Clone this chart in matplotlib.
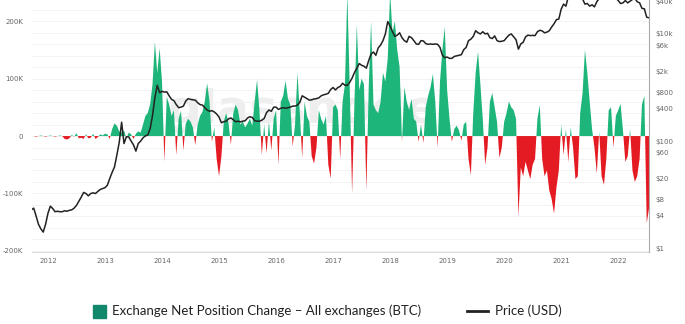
import numpy as np
import matplotlib.pyplot as plt
from matplotlib.patches import Rectangle
from matplotlib.lines import Line2D

# exchange net position change, thousand BTC, two readings per month
net_2011 = [0, 0, -1, 0, 1, 0, -1]  # from mid Sep 2011
net_2012 = [0, 1, 0, -1, 0, 1, 0, -5, -6, -4, 2, -1, 5, -4, -3, -5, 3, -4, -3, 4, -5, -2, 3, 1]
net_2013 = [4, 3, -5, 12, 22, 18, 8, 6, 10, -4, 6, 3, -5, 4, 8, 6, 20, 35, 40, 55, 90, 164, 110, 153]
net_2014 = [95, -45, 68, 55, 35, 45, -33, 30, 44, -25, 22, 30, 25, 15, -16, 20, 35, 42, 60, 92, 60, -10, 15, -40]
net_2015 = [-70, -35, 25, 40, 22, -15, 40, 55, 45, 20, 25, 15, 22, 30, 18, 60, 98, 45, -33, 20, -30, 25, -25, 30]
net_2016 = [45, -50, 60, 70, 96, 65, 55, -18, 20, 110, 40, -38, 60, 35, 25, -35, -48, -20, 45, 30, 20, 35, -50, -74]
net_2017 = [50, 55, 45, -40, 60, 90, 250, 85, -100, 60, 194, 80, 100, 90, -95, 85, 200, 55, 45, 40, 60, 110, 95, 135]
net_2018 = [250, 180, 200, 150, 120, -10, 85, 60, 45, 65, 30, 25, -10, 20, -12, 50, 70, 85, 108, 60, -20, 95, 150, 190]
net_2019 = [80, 30, -10, 12, 18, 10, -8, 20, 25, -40, -68, 40, 110, 147, 90, 30, -50, -20, 60, 75, 50, 25, -38, -20]
net_2020 = [25, 40, 60, 50, 45, 30, -140, -55, -70, -45, -60, -75, -50, -40, 30, 54, -40, -70, -60, -95, -110, -135, -90, -60]
net_2021 = [20, -33, 12, -45, 15, -20, -75, -70, 40, 75, 150, 110, 60, 12, -20, -65, 8, -70, -85, -40, 45, 50, -20, 35]
net_2022 = [45, 56, 10, -45, -35, 12, -60, -80, -70, -40, 55, 70, -152, -125]  # to mid Jul 2022

# BTC price in USD, same dates
price_2011 = [5.2, 5.6, 4.0, 2.8, 2.3, 2.0, 2.8]
price_2012 = [4.5, 6.1, 5.5, 4.8, 4.9, 4.8, 4.8, 5.0, 4.9, 5.1, 5.2, 5.6,
              6.3, 7.5, 9.0, 11.0, 10.5, 9.5, 10.5, 10.8, 10.5, 11.5, 12.5, 13.0]
price_2013 = [13.5, 15, 20, 26, 33, 55, 95, 225, 90, 120, 120, 100,
              85, 65, 90, 100, 115, 125, 130, 170, 300, 650, 1100, 800]
price_2014 = [850, 820, 830, 700, 600, 570, 480, 420, 430, 450, 560, 620,
              600, 590, 580, 520, 480, 470, 420, 380, 360, 370, 350, 320]
price_2015 = [280, 220, 230, 235, 260, 270, 250, 230, 235, 228, 235, 240,
              270, 285, 275, 240, 235, 235, 245, 265, 340, 380, 360, 430]
price_2016 = [430, 390, 410, 420, 410, 420, 430, 450, 450, 470, 530, 700,
              660, 620, 580, 590, 610, 620, 640, 700, 730, 750, 780, 920]
price_2017 = [1000, 900, 1000, 1050, 1200, 1100, 1100, 1250, 1500, 1900, 2300, 2800,
              2600, 2500, 2300, 3200, 4200, 4600, 4000, 5500, 6200, 7500, 10000, 17000]
price_2018 = [14000, 11000, 9000, 9500, 10500, 8500, 7500, 7000, 9000, 8500, 7500, 6500,
              6400, 7500, 7400, 6600, 6400, 6500, 6400, 6500, 6400, 5600, 4000, 3600]
price_2019 = [3700, 3500, 3500, 3800, 3900, 4000, 4100, 5100, 5600, 7500, 8000, 9000,
              11500, 10500, 10000, 11000, 10000, 10300, 8500, 8200, 9200, 7500, 7200, 7300]
price_2020 = [7500, 8500, 9500, 10000, 8800, 7800, 5200, 6500, 7000, 8800, 9500, 9300,
              9400, 9300, 11000, 11700, 11400, 10500, 10800, 11500, 13500, 15500, 18500, 19000]
price_2021 = [29000, 36000, 33000, 50000, 50000, 57000, 55000, 58000, 56000, 45000, 36000, 37000,
              33000, 35000, 32000, 40000, 46000, 47000, 45000, 60000, 62000, 58000, 50000, 47000]
price_2022 = [42000, 37000, 38000, 42000, 38000, 41000, 44000, 46000, 40000, 38000, 30000, 29500,
              20500, 20000]

year_ticks = list(range(2012, 2023))
net_ticks = [-200000, -100000, 0, 100000, 200000]
net_labels = ['-200K', '-100K', '0', '100K', '200K']
price_ticks = [1, 4, 8, 20, 60, 100, 400, 800, 2000, 6000, 10000, 40000]
price_labels = ['$1', '$4', '$8', '$20', '$60', '$100', '$400', '$800', '$2k', '$6k', '$10k', '$40k']

net_years = [net_2011, net_2012, net_2013, net_2014, net_2015, net_2016,
             net_2017, net_2018, net_2019, net_2020, net_2021, net_2022]
price_years = [price_2011, price_2012, price_2013, price_2014, price_2015, price_2016,
               price_2017, price_2018, price_2019, price_2020, price_2021, price_2022]

t, net, price = [], [], []
for k, yr in enumerate(range(2011, 2023)):
    vals = net_years[k]
    start = 24 - len(vals) if yr == 2011 else 0
    for i in range(len(vals)):
        t.append(yr + (start + i) / 24)
        net.append(vals[i] * 1000)
        price.append(price_years[k][i])
t = np.array(t)
net = np.array(net)
price = np.array(price)

green = '#1db57a'
red = '#e51b23'
W, H = 685, 324

fig = plt.figure(figsize=(W / 100, H / 100), dpi=100)
ax = fig.add_axes([32 / W, (H - 252) / H, (649 - 32) / W, 252 / H])

ax.text(0.44, 0.56, 'glassnode', transform=ax.transAxes, fontsize=34, fontweight='bold',
        color='#eeeeee', ha='center', va='center', zorder=0)

ax.fill_between(t, net, 0, where=net >= 0, interpolate=True, color=green, lw=0, zorder=2)
ax.fill_between(t, net, 0, where=net <= 0, interpolate=True, color=red, lw=0, zorder=2)

ax.set_xlim(2011.72, 2022.54)
ax.set_ylim(-202000, 237000)
ax.set_yticks(net_ticks)
ax.set_yticklabels(net_labels)
ax.set_yticks(np.arange(-180000, 240000, 20000), minor=True)
ax.grid(axis='y', which='both', color='#f1f1f1', lw=0.6, zorder=0)
ax.set_xticks(year_ticks)
ax.set_xticklabels([str(y) for y in year_ticks])
ax.tick_params(axis='both', which='both', length=0, labelsize=5, colors='#666666')
ax.tick_params(axis='y', pad=6.5)
ax.tick_params(axis='x', pad=4.5)
for s in ['top', 'left', 'right']:
    ax.spines[s].set_visible(False)
ax.spines['bottom'].set_color('#dddddd')
ax.spines['bottom'].set_linewidth(0.8)

ax2 = ax.twinx()
ax2.plot(t, price, color='#222222', lw=1.1, zorder=3)
ax2.set_yscale('log')
ax2.set_ylim(0.85, 43000)
ax2.set_yticks(price_ticks)
ax2.set_yticklabels(price_labels)
ax2.minorticks_off()
ax2.tick_params(axis='y', length=0, labelsize=5, colors='#666666', pad=4.5)
for s in ['top', 'left', 'bottom']:
    ax2.spines[s].set_visible(False)
ax2.spines['right'].set_color('#aaaaaa')
ax2.spines['right'].set_linewidth(0.8)

# legend
ly = 1 - 311 / H
fig.patches.append(Rectangle((93 / W, 1 - 318 / H), 13 / W, 13 / H,
                             transform=fig.transFigure, color='#11876b'))
fig.text(112 / W, ly, 'Exchange Net Position Change \u2013 All exchanges (BTC)',
         fontsize=9.5, family='Lato', color='#222222', va='center')
fig.lines.append(Line2D([467 / W, 488 / W], [ly, ly], transform=fig.transFigure,
                        color='#222222', lw=2))
fig.text(495 / W, ly, 'Price (USD)', fontsize=9.5, family='Lato', color='#222222', va='center')

fig.savefig('out.png', dpi=100)
